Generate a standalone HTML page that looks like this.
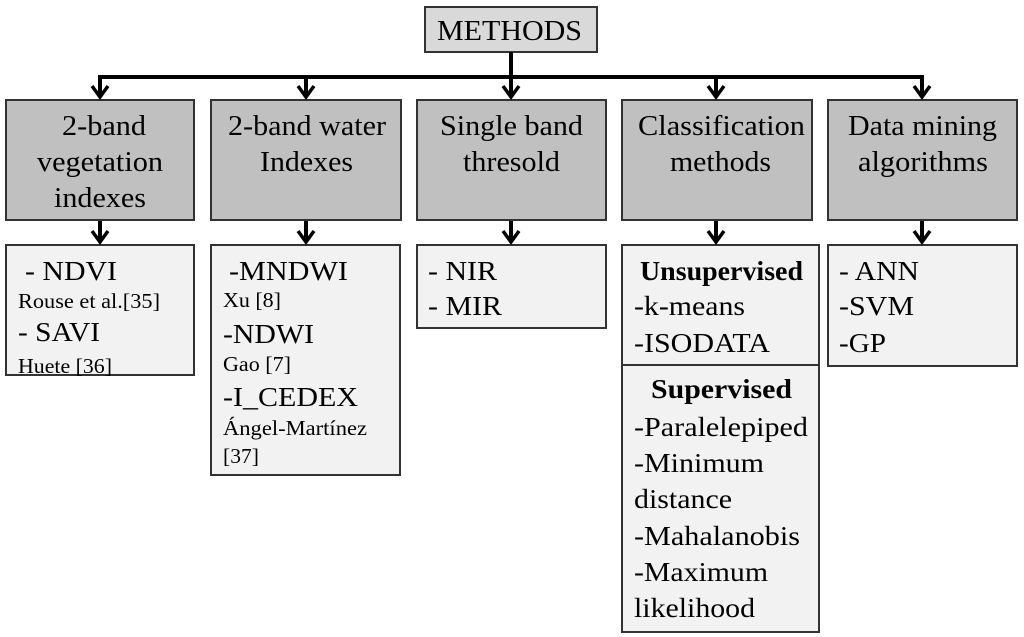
<!DOCTYPE html>
<html><head><meta charset="utf-8"><style>
body{margin:0;background:#fff;}
svg{display:block;font-family:"Liberation Serif",serif;}
</style></head><body>
<svg width="1024" height="637" viewBox="0 0 1024 637" xmlns="http://www.w3.org/2000/svg">
<g stroke="#333" stroke-width="2">
<rect x="425" y="7" width="172" height="45" fill="#d9d9d9"/>
<rect x="6" y="100" width="188" height="120" fill="#c0c0c0"/>
<rect x="211" y="100" width="190" height="120" fill="#c0c0c0"/>
<rect x="417" y="100" width="189" height="120" fill="#c0c0c0"/>
<rect x="622" y="100" width="190" height="120" fill="#c0c0c0"/>
<rect x="828" y="100" width="189" height="120" fill="#c0c0c0"/>
<rect x="6" y="245" width="188" height="130" fill="#f2f2f2"/>
<rect x="211" y="245" width="189" height="230" fill="#f2f2f2"/>
<rect x="417" y="245" width="189" height="83" fill="#f2f2f2"/>
<rect x="622" y="245" width="197" height="120" fill="#f2f2f2"/>
<rect x="622" y="365" width="197" height="267" fill="#f2f2f2"/>
<rect x="828" y="245" width="189" height="121" fill="#f2f2f2"/>
</g>
<g stroke="#000" stroke-width="4" fill="none">
<line x1="511" y1="52" x2="511" y2="96"/>
<polyline points="100,96 100,77 922,77 922,96"/>
<line x1="306" y1="77" x2="306" y2="96"/>
<line x1="716" y1="77" x2="716" y2="96"/>
<g stroke-width="3.5">
<polyline points="92,86 100,97 108,86"/><polyline points="298,86 306,97 314,86"/><polyline points="503,86 511,97 519,86"/><polyline points="708,86 716,97 724,86"/><polyline points="914,86 922,97 930,86"/>
</g>
<line x1="100" y1="221" x2="100" y2="242"/><line x1="306" y1="221" x2="306" y2="242"/><line x1="511" y1="221" x2="511" y2="242"/><line x1="716" y1="221" x2="716" y2="242"/><line x1="922" y1="221" x2="922" y2="242"/>
<g stroke-width="3.5">
<polyline points="92,231 100,242 108,231"/><polyline points="298,231 306,242 314,231"/><polyline points="503,231 511,242 519,231"/><polyline points="708,231 716,242 724,231"/><polyline points="914,231 922,242 930,231"/>
</g>
</g>
<g font-size="28" fill="#000" lengthAdjust="spacingAndGlyphs">
<text x="437" y="40" textLength="145" lengthAdjust="spacingAndGlyphs">METHODS</text>
<text x="62" y="135" textLength="84" lengthAdjust="spacingAndGlyphs">2-band</text>
<text x="37" y="171" textLength="126" lengthAdjust="spacingAndGlyphs">vegetation</text>
<text x="54" y="207" textLength="92" lengthAdjust="spacingAndGlyphs">indexes</text>
<text x="228" y="135" textLength="158" lengthAdjust="spacingAndGlyphs">2-band water</text>
<text x="260" y="171" textLength="93" lengthAdjust="spacingAndGlyphs">Indexes</text>
<text x="440" y="135" textLength="143" lengthAdjust="spacingAndGlyphs">Single band</text>
<text x="463" y="171" textLength="97" lengthAdjust="spacingAndGlyphs">thresold</text>
<text x="638" y="135" textLength="167" lengthAdjust="spacingAndGlyphs">Classification</text>
<text x="670" y="171" textLength="101" lengthAdjust="spacingAndGlyphs">methods</text>
<text x="848" y="135" textLength="149" lengthAdjust="spacingAndGlyphs">Data mining</text>
<text x="858" y="171" textLength="130" lengthAdjust="spacingAndGlyphs">algorithms</text>
</g>
<g font-size="27" fill="#000">
<text x="25" y="280" textLength="92" lengthAdjust="spacingAndGlyphs">- NDVI</text>
<text x="18" y="341" textLength="82" lengthAdjust="spacingAndGlyphs">- SAVI</text>
<text x="229" y="280" textLength="119" lengthAdjust="spacingAndGlyphs">-MNDWI</text>
<text x="223" y="343" textLength="91" lengthAdjust="spacingAndGlyphs">-NDWI</text>
<text x="223" y="406" textLength="135" lengthAdjust="spacingAndGlyphs">-I_CEDEX</text>
<text x="428" y="280" textLength="69" lengthAdjust="spacingAndGlyphs">- NIR</text>
<text x="428" y="315" textLength="74" lengthAdjust="spacingAndGlyphs">- MIR</text>
<text x="634" y="315" textLength="111" lengthAdjust="spacingAndGlyphs">-k-means</text>
<text x="634" y="352" textLength="136" lengthAdjust="spacingAndGlyphs">-ISODATA</text>
<text x="634" y="436" textLength="174" lengthAdjust="spacingAndGlyphs">-Paralelepiped</text>
<text x="634" y="472" textLength="130" lengthAdjust="spacingAndGlyphs">-Minimum</text>
<text x="634" y="508" textLength="98" lengthAdjust="spacingAndGlyphs">distance</text>
<text x="634" y="545" textLength="166" lengthAdjust="spacingAndGlyphs">-Mahalanobis</text>
<text x="634" y="581" textLength="134" lengthAdjust="spacingAndGlyphs">-Maximum</text>
<text x="634" y="617" textLength="121" lengthAdjust="spacingAndGlyphs">likelihood</text>
<text x="839" y="280" textLength="80" lengthAdjust="spacingAndGlyphs">- ANN</text>
<text x="839" y="315" textLength="75" lengthAdjust="spacingAndGlyphs">-SVM</text>
<text x="839" y="352" textLength="47" lengthAdjust="spacingAndGlyphs">-GP</text>
<text x="640" y="280" font-weight="bold" textLength="163" lengthAdjust="spacingAndGlyphs">Unsupervised</text>
<text x="651" y="398" font-weight="bold" textLength="141" lengthAdjust="spacingAndGlyphs">Supervised</text>
</g>
<g font-size="21" fill="#000">
<text x="18" y="308" textLength="142" lengthAdjust="spacingAndGlyphs">Rouse et al.[35]</text>
<text x="18" y="373" textLength="94" lengthAdjust="spacingAndGlyphs">Huete [36]</text>
<text x="223" y="307" textLength="58" lengthAdjust="spacingAndGlyphs">Xu [8]</text>
<text x="223" y="371" textLength="68" lengthAdjust="spacingAndGlyphs">Gao [7]</text>
<text x="223" y="435" textLength="144" lengthAdjust="spacingAndGlyphs">Ángel-Martínez</text>
<text x="223" y="463" textLength="36" lengthAdjust="spacingAndGlyphs">[37]</text>
</g>
</svg>
</body></html>
